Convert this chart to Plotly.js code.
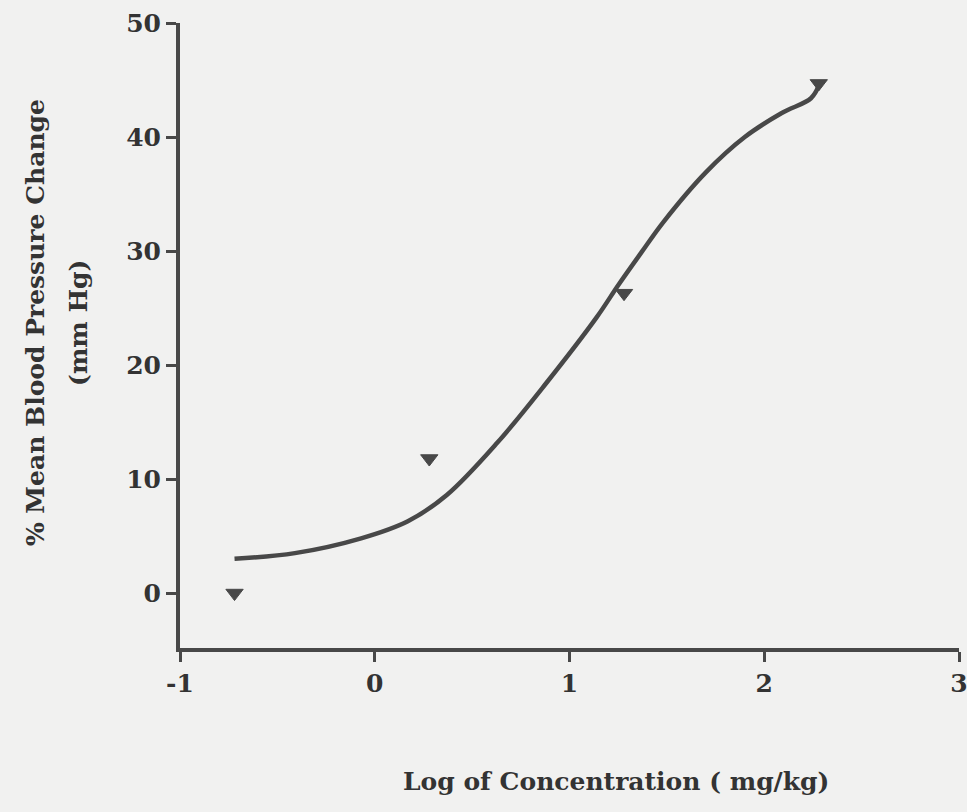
<!DOCTYPE html>
<html>
<head>
<meta charset="utf-8">
<script src="https://cdn.plot.ly/plotly-3.0.1.min.js"></script>
<style>
  html, body { margin: 0; padding: 0; background: #f1f1f0; }
  #chart { width: 967px; height: 812px; }
</style>
</head>
<body>
<div id="chart"></div>
<script>
// Fitted dose-response curve
const curveX = [-0.72, -0.41, -0.07, 0.17, 0.37, 0.63, 0.88, 1.14, 1.25, 1.37, 1.48, 1.70, 1.90, 2.09, 2.24, 2.28];
const curveY = [3.0, 3.5, 4.8, 6.3, 8.6, 13.2, 18.4, 24.2, 27.0, 29.9, 32.5, 36.9, 40.0, 42.1, 43.4, 44.5];

// Observed data points
const pointsX = [-0.72, 0.28, 1.28, 2.28];
const pointsY = [0.0, 11.8, 26.3, 44.7];

// Axis ticks
const xTicks = [-1, 0, 1, 2, 3];
const xTickText = ["-1", "0", "1", "2", "3"];
const yTicks = [0, 10, 20, 30, 40, 50];
const yTickText = ["0", "10", "20", "30", "40", "50"];

const xTitle = "Log of Concentration ( mg/kg)";
const yTitle1 = "% Mean Blood Pressure Change";
const yTitle2 = "(mm Hg)";

const ink = "#484848";
const textInk = "#333333";
const fontFam = "DejaVu Serif, Liberation Serif, serif";

const traces = [
  {
    x: curveX, y: curveY, type: "scatter", mode: "lines",
    line: { color: ink, width: 4.5, shape: "spline", smoothing: 1 },
    hoverinfo: "skip", showlegend: false
  },
  {
    x: pointsX, y: pointsY, type: "scatter", mode: "markers",
    marker: { symbol: "triangle-down", size: 15, color: ink, line: { color: ink, width: 1 } },
    showlegend: false, cliponaxis: false
  }
];

const layout = {
  width: 967, height: 812,
  paper_bgcolor: "#f1f1f0", plot_bgcolor: "rgba(0,0,0,0)",
  margin: { l: 180, r: 8, t: 23, b: 164 },
  font: { family: fontFam, color: textInk },
  xaxis: {
    range: [-1, 3], tickvals: xTicks, ticktext: xTickText,
    showline: true, linecolor: ink, linewidth: 4,
    ticks: "outside", ticklen: 10, tickwidth: 3, tickcolor: ink,
    showgrid: false, zeroline: false, ticklabeloverflow: "allow",
    tickfont: { family: fontFam, size: 25, color: textInk, weight: "bold" }
  },
  yaxis: {
    range: [-4.82, 50], tickvals: yTicks, ticktext: yTickText,
    showline: true, linecolor: ink, linewidth: 4,
    ticks: "outside", ticklen: 10, tickwidth: 3, tickcolor: ink,
    showgrid: false, zeroline: false, ticklabeloverflow: "allow",
    tickfont: { family: fontFam, size: 25, color: textInk, weight: "bold" }
  },
  annotations: [
    {
      text: "<b>" + xTitle + "</b>", xref: "paper", yref: "paper",
      x: 0.56, y: -0.214, showarrow: false, xanchor: "center", yanchor: "middle",
      font: { family: fontFam, size: 25, color: textInk }
    },
    {
      text: "<b>" + yTitle1 + "</b>", xref: "paper", yref: "paper",
      x: -0.186, y: 0.52, showarrow: false, textangle: -90,
      xanchor: "center", yanchor: "middle",
      font: { family: fontFam, size: 25, color: textInk }
    },
    {
      text: "<b>" + yTitle2 + "</b>", xref: "paper", yref: "paper",
      x: -0.131, y: 0.52, showarrow: false, textangle: -90,
      xanchor: "center", yanchor: "middle",
      font: { family: fontFam, size: 25, color: textInk }
    }
  ]
};

Plotly.newPlot("chart", traces, layout, { displayModeBar: false, staticPlot: true });
</script>
</body>
</html>
